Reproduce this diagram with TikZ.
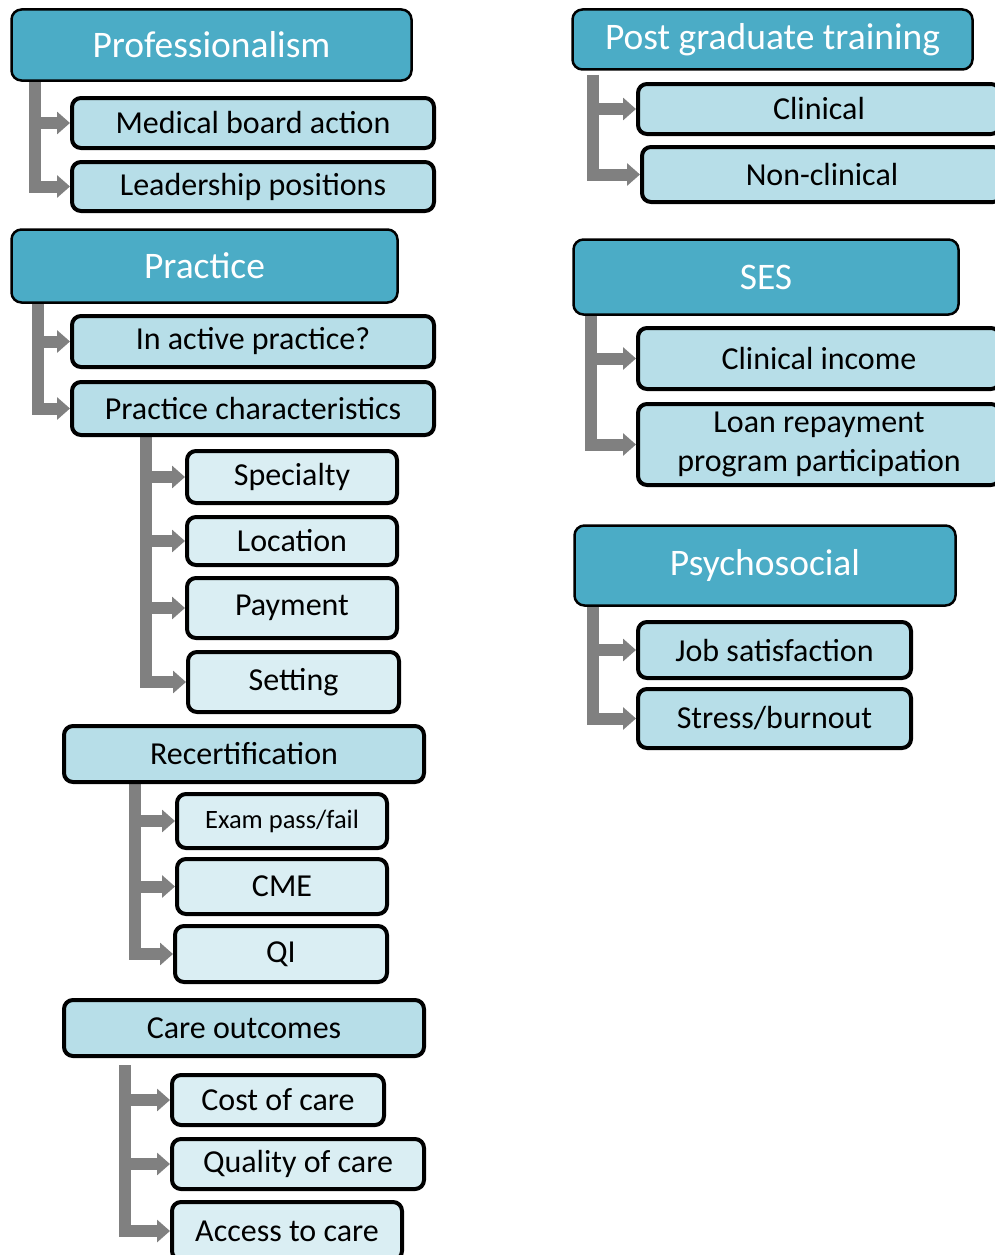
\documentclass[tikz,border=0pt]{standalone}
\usepackage{fontspec}
\setmainfont{Carlito}
\usetikzlibrary{arrows.meta,calc,backgrounds}
\definecolor{hdrblue}{RGB}{75,172,198}
\definecolor{midblue}{RGB}{183,222,232}
\definecolor{paleblue}{RGB}{218,238,243}
\definecolor{arrgray}{RGB}{128,128,128}
\tikzset{
  sz/.style 2 args={minimum width=#1pt, minimum height=#2pt},
  hdr/.style={draw=black, line width=2.5pt, fill=hdrblue, rounded corners=10pt, text=white, inner sep=0pt, font=\fontsize{37.5}{44}\selectfont},
  sub/.style={draw=black, line width=4pt, fill=midblue, rounded corners=9pt, text=black, inner sep=0pt, font=\fontsize{32}{39}\selectfont, align=center},
  leaf/.style={sub, fill=paleblue},
  conn/.style={draw=arrgray, line width=12pt, line join=miter, -{Triangle[length=13pt,width=22pt]}},
}
\begin{document}
\begin{tikzpicture}[x=1pt,y=-1pt]
\useasboundingbox (0,0) rectangle (994,1255);
% left column
\node[hdr, sz={400}{71}] (prof) at (211.5,45) {Professionalism};
\node[sub, sz={362}{50}] (mba) at (253,123) {Medical board action};
\node[sub, sz={362}{49}] (lead) at (253,186.5) {Leadership positions};
\node[hdr, sz={386}{73}] (prac) at (204.5,266) {Practice};
\node[sub, sz={362}{51}] (act) at (253,341.5) {In active practice?};
\node[sub, sz={362}{53}] (pch) at (253,408.5) {Practice characteristics};
\node[leaf, sz={210}{52}] (spec) at (292,477) {Specialty};
\node[leaf, sz={210}{48}] (loc) at (292,541) {Location};
\node[leaf, sz={210}{60}] (pay) at (292,608) {Payment};
\node[leaf, sz={211}{60}] (sett) at (293.5,682) {Setting};
\node[sub, sz={360}{56}] (rec) at (244,754) {Recertification};
\node[leaf, sz={210}{54}, font=\fontsize{26.5}{32}\selectfont] (exam) at (282,821) {Exam pass/fail};
\node[leaf, sz={210}{55}] (cme) at (282,886.5) {CME};
\node[leaf, sz={212}{56}] (qi) at (281,954) {QI};
\node[sub, sz={360}{56}] (care) at (244,1028) {Care outcomes};
\node[leaf, sz={212}{50}] (cost) at (278,1100) {Cost of care};
\node[leaf, sz={252}{50}] (qual) at (298,1164) {Quality of care};
\node[leaf, sz={230}{58}] (acc) at (287,1231) {Access to care};
% right column
\node[hdr, sz={400}{60}] (pgt) at (772.5,39.5) {Post graduate training};
\node[sub, sz={362}{50}] (clin) at (819,109) {Clinical};
\node[sub, sz={360}{55}] (ncl) at (822,174.5) {Non-clinical};
\node[hdr, sz={385}{75}] (ses) at (766,277) {SES};
\node[sub, sz={362}{61}] (cinc) at (819,358.5) {Clinical income};
\node[sub, sz={362}{81}] (loan) at (819,444.5) {Loan repayment\\program participation};
\node[hdr, sz={381}{80}] (psy) at (765,565.5) {Psychosocial};
\node[sub, sz={273}{56}] (job) at (774.5,650) {Job satisfaction};
\node[sub, sz={273}{59}] (stress) at (774.5,718.5) {Stress/burnout};
% connectors
\begin{scope}[on background layer]
\draw[conn] ($(prof.south west)+(25,0)$) |- (mba.west);
\draw[conn] ($(prof.south west)+(25,0)$) |- (lead.west);
\draw[conn] ($(prac.south west)+(28,0)$) |- (act.west);
\draw[conn] ($(prac.south west)+(28,0)$) |- (pch.west);
\draw[conn] ($(pch.south west)+(76,0)$) |- (spec.west);
\draw[conn] ($(pch.south west)+(76,0)$) |- (loc.west);
\draw[conn] ($(pch.south west)+(76,0)$) |- (pay.west);
\draw[conn] ($(pch.south west)+(76,0)$) |- (sett.west);
\draw[conn] ($(rec.south west)+(73,0)$) |- (exam.west);
\draw[conn] ($(rec.south west)+(73,0)$) |- (cme.west);
\draw[conn] ($(rec.south west)+(73,0)$) |- (qi.west);
\draw[conn] ($(care.south west)+(63,7)$) |- (cost.west);
\draw[conn] ($(care.south west)+(63,7)$) |- (qual.west);
\draw[conn] ($(care.south west)+(63,7)$) |- (acc.west);
\draw[conn] ($(pgt.south west)+(22,4)$) |- (clin.west);
\draw[conn] ($(pgt.south west)+(22,4)$) |- (ncl.west);
\draw[conn] ($(ses.south west)+(19,0)$) |- (cinc.west);
\draw[conn] ($(ses.south west)+(19,0)$) |- (loan.west);
\draw[conn] ($(psy.south west)+(20,0)$) |- (job.west);
\draw[conn] ($(psy.south west)+(20,0)$) |- (stress.west);
\end{scope}
\end{tikzpicture}
\end{document}
